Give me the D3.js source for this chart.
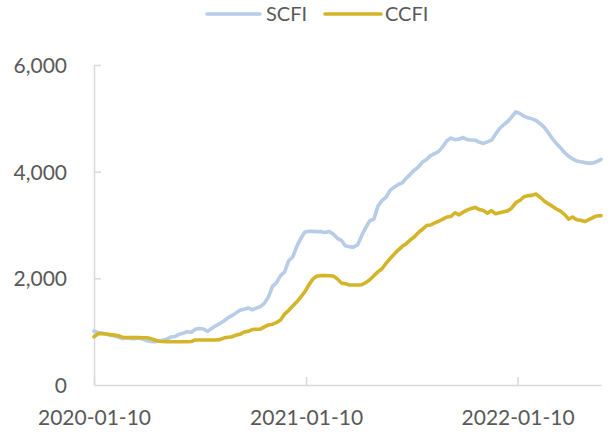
<!DOCTYPE html>
<html><head><meta charset="utf-8">
<script src="https://cdn.jsdelivr.net/npm/d3@7"></script>
<style>html,body{margin:0;padding:0;background:#fff;}svg{display:block;}</style>
</head><body>
<svg id="c" width="611" height="433"></svg>
<script>
const startDate = "2020-01-10";
const weeks = 126;
const seriesNames = ["SCFI", "CCFI"];
const seriesColors = ["#b7cce6", "#d4b428"];
const xTickLabels = ["2020-01-10", "2021-01-10", "2022-01-10"];
const yTicks = [0, 2000, 4000, 6000];
const scfi = [1010,985,970,955,935,925,900,870,880,875,870,880,860,835,815,810,830,840,865,900,
910,950,970,1000,990,1045,1060,1050,1005,1060,1110,1150,1200,1260,1300,1350,1400,1420,1445,1410,
1440,1470,1530,1650,1850,1920,2050,2120,2330,2400,2600,2750,2870,2880,2880,2875,2875,2860,2880,2830,
2750,2710,2610,2590,2585,2630,2800,2950,3080,3110,3350,3460,3520,3650,3710,3760,3790,3880,3950,4030,
4090,4180,4230,4300,4340,4380,4470,4580,4630,4600,4610,4640,4600,4595,4590,4550,4530,4560,4590,4700,
4810,4880,4940,5030,5120,5090,5040,5010,4990,4960,4900,4830,4730,4620,4530,4450,4360,4290,4240,4200,
4185,4170,4160,4160,4190,4230];
const ccfi = [906,960,965,955,945,935,925,895,890,890,888,888,887,887,870,845,820,815,813,812,
812,812,812,812,815,845,845,845,845,845,845,850,880,895,905,935,950,995,1005,1040,
1045,1048,1090,1125,1140,1170,1220,1330,1400,1480,1560,1650,1750,1880,1990,2045,2050,2050,2048,2045,
1990,1910,1900,1875,1875,1875,1880,1920,1975,2050,2120,2180,2280,2370,2450,2530,2600,2650,2720,2780,
2860,2920,2990,3000,3040,3070,3110,3150,3160,3230,3190,3240,3280,3310,3330,3290,3270,3220,3270,3210,
3230,3250,3265,3320,3420,3460,3530,3550,3555,3580,3520,3450,3400,3350,3300,3260,3200,3110,3150,3100,
3090,3065,3100,3140,3170,3175];

const parse = d3.timeParse("%Y-%m-%d");
const t0 = parse(startDate);
const dates = d3.range(weeks).map(i => d3.timeDay.offset(t0, 7 * i));

const svg = d3.select("#c");
const font = "Lato, 'Open Sans', sans-serif";
const textColor = "#595959";
const axisColor = "#d9d9d9";

const x = d3.scaleTime().domain([dates[0], dates[dates.length - 1]]).range([94, 601]);
const y = d3.scaleLinear().domain([0, 6000]).range([385, 65]);

// Y axis
const yAxis = svg.append("g").attr("transform", "translate(94,0)")
  .call(d3.axisLeft(y).tickValues(yTicks).tickSize(-7).tickSizeOuter(0).tickFormat(d3.format(",")).tickPadding(34));
yAxis.select(".domain").attr("stroke", axisColor).attr("stroke-width", 1.5);
yAxis.selectAll(".tick line").attr("stroke", axisColor).attr("stroke-width", 1.5);
yAxis.selectAll(".tick").filter(d => d === 0).select("line").remove();
yAxis.selectAll(".tick text").attr("fill", textColor).style("font-family", font).style("font-size", "21px")
  .attr("x", -27).attr("dy", "0.35em");

// X axis
const xAxis = svg.append("g").attr("transform", "translate(0,385)")
  .call(d3.axisBottom(x).tickValues(xTickLabels.map(parse)).tickSize(-8).tickSizeOuter(0)
    .tickFormat(d3.timeFormat("%Y-%m-%d")));
xAxis.select(".domain").attr("stroke", axisColor).attr("stroke-width", 1.5);
xAxis.selectAll(".tick line").attr("stroke", axisColor).attr("stroke-width", 1.5);
xAxis.selectAll(".tick text").attr("fill", textColor).style("font-family", font).style("font-size", "21px")
  .attr("y", 40).attr("dy", 0);

// Lines
const line = d3.line().x((d, i) => x(dates[i])).y(d => y(d)).curve(d3.curveLinear);
[scfi, ccfi].forEach((s, k) => {
  svg.append("path").datum(s).attr("d", line).attr("fill", "none")
    .attr("stroke", seriesColors[k]).attr("stroke-width", 3.6)
    .attr("stroke-linejoin", "round").attr("stroke-linecap", "round");
});

// Legend
const legendItems = [{x1: 207, x2: 260, tx: 266}, {x1: 325, x2: 381, tx: 385}];
seriesNames.forEach((n, k) => {
  const it = legendItems[k];
  svg.append("line").attr("x1", it.x1).attr("x2", it.x2).attr("y1", 14).attr("y2", 14)
    .attr("stroke", seriesColors[k]).attr("stroke-width", 3.6).attr("stroke-linecap", "round");
  svg.append("text").attr("x", it.tx).attr("y", 20.5).text(n)
    .attr("fill", textColor).style("font-family", font).style("font-size", "20px");
});
</script>
</body></html>
